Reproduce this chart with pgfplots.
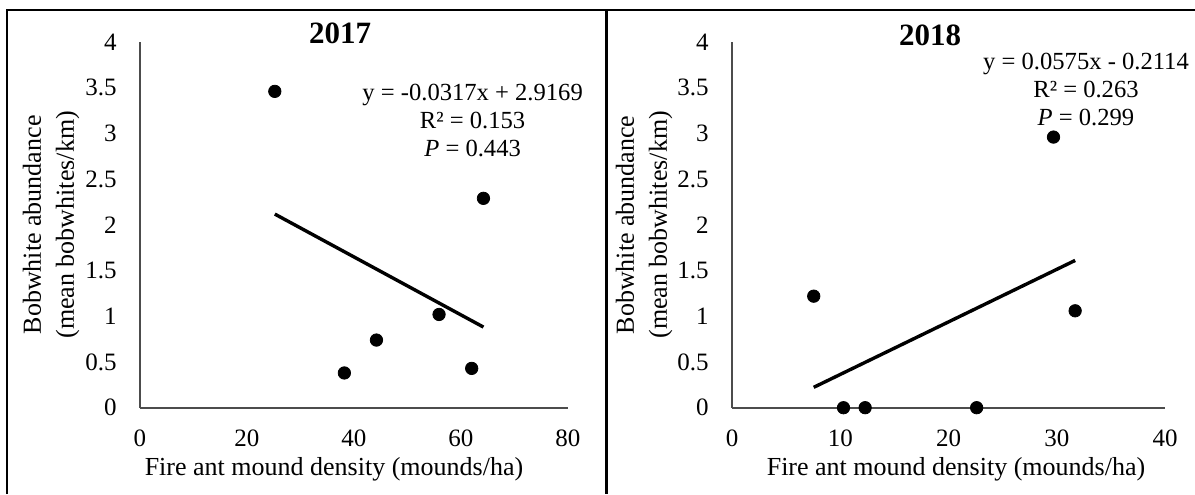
\documentclass[border=0pt]{standalone}
\usepackage{fontspec}
\setmainfont{Liberation Serif}
\usepackage{pgfplots}
\pgfplotsset{compat=1.18}
\newcommand\tickfont{\fontsize{12.5}{14}\selectfont}
\newcommand\labfont{\fontsize{13}{16.5}\selectfont}
\newcommand\eqfont{\fontsize{12.3}{14}\selectfont}
\pgfplotsset{panel/.style={
    scale only axis, height=182.85pt, xmin=0, ymin=0, ymax=4,
    axis x line=bottom, axis y line=left,
    axis line style={-, black!70, line width=0.9pt},
    major tick length=0pt,
    ytick={0,0.5,1,1.5,2,2.5,3,3.5,4},
    yticklabels={0,0.5,1,1.5,2,2.5,3,3.5,4},
    tick label style={font=\tickfont},
    xticklabel style={anchor=base, yshift=-19.5pt},
    yticklabel style={anchor=east, inner sep=0pt, xshift=-11.5pt},
    xlabel={Fire ant mound density (mounds/ha)},
    ylabel={Bobwhite abundance\\(mean bobwhites/km)},
    ylabel style={font=\labfont, align=center, anchor=center},
    xlabel style={font=\labfont, anchor=center},
    clip=false}}
\begin{document}
\begin{tikzpicture}
\useasboundingbox (0,0) rectangle (597.5pt,-247pt);
\draw[line width=1pt] (3.5pt,-247pt) -- (3.5pt,-5pt) -- (597.5pt,-5pt);
\draw[line width=1.5pt] (303.3pt,-5pt) -- (303.3pt,-247pt);
%% 2017
\begin{axis}[panel, at={(70pt,-203.85pt)}, anchor=south west, width=214pt,
    xmax=80, xtick={0,20,40,60,80}, xticklabels={0,20,40,60,80},
    xlabel style={at={([xshift=-10pt,yshift=-31pt]axis description cs:0.5,0)}},
    ylabel style={at={([xshift=-44.5pt]axis description cs:0,0.5)}}]
  \addplot[only marks, mark=*, mark size=3.1pt, black] coordinates {
    (25.2,3.46) (38.2,0.38) (44.2,0.74) (55.9,1.02) (62.0,0.43) (64.2,2.29)};
  \addplot[black, line width=1.7pt] coordinates {(25.2,2.118) (64.2,0.882)};
\end{axis}
%% 2018
\begin{axis}[panel, at={(366pt,-203.85pt)}, anchor=south west, width=216.5pt,
    xmax=40, xtick={0,10,20,30,40}, xticklabels={0,10,20,30,40},
    xlabel style={at={([xshift=3.75pt,yshift=-31pt]axis description cs:0.5,0)}},
    ylabel style={at={([xshift=-44pt]axis description cs:0,0.5)}}]
  \addplot[only marks, mark=*, mark size=3.1pt, black] coordinates {
    (7.55,1.22) (10.3,0) (12.3,0) (22.6,0) (29.7,2.96) (31.7,1.06)};
  \addplot[black, line width=1.7pt] coordinates {(7.55,0.223) (31.7,1.611)};
\end{axis}
\node[font=\fontsize{15.5}{17}\selectfont\bfseries] at (170pt,-16.5pt) {2017};
\node[font=\fontsize{15.5}{17}\selectfont\bfseries] at (465pt,-17.5pt) {2018};
\node[font=\eqfont, align=center] at (236.3pt,-60pt) {y = -0.0317x + 2.9169\\R² = 0.153\\\textit{P} = 0.443};
\node[font=\eqfont, align=center] at (543pt,-44.5pt) {y = 0.0575x - 0.2114\\R² = 0.263\\\textit{P} = 0.299};
\end{tikzpicture}
\end{document}
